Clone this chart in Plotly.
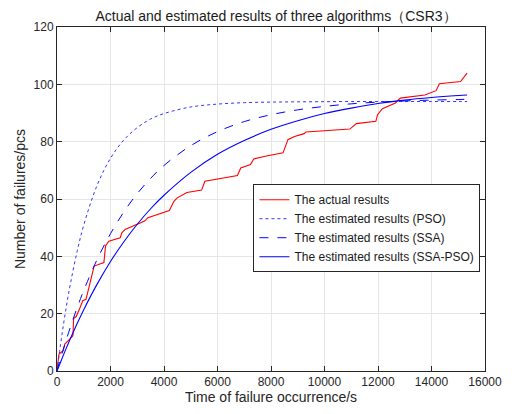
import plotly.graph_objects as go

# Actual results
t_actual = [0, 73, 230, 292, 475, 596, 621, 718, 840, 962, 1084, 1205, 1327, 1388,
            1753, 1814, 1936, 2362, 2423, 2545, 3275, 3397, 4200, 4371, 4493, 4615,
            4858, 5406, 5528, 6746, 6868, 7233, 7355, 7781, 8085, 8450, 8633, 8877,
            9242, 9303, 10948, 11190, 11920, 11982, 12164, 12651, 12834, 13747, 14174,
            14295, 15087, 15270, 15330]
y_actual = [0, 5.9, 7.1, 9.4, 11.1, 12.3, 18.3, 19.0, 21.6, 24.5, 25.0, 29.7, 34.3, 36.6,
            37.8, 43.6, 45.3, 46.5, 48.2, 49.4, 52.3, 53.5, 56.0, 59.2, 60.4, 61.0,
            62.3, 63.1, 66.2, 68.2, 70.8, 72.0, 74.0, 74.9, 75.5, 76.1, 80.7, 81.8,
            82.8, 83.4, 84.4, 86.3, 87.1, 89.4, 91.5, 93.5, 95.2, 96.3, 97.8,
            100.2, 101.0, 103.3, 103.9]

# Estimated curves
t_est = [0, 125, 250, 375, 500, 750, 1000, 1500, 2000, 2500, 3000, 3500, 4000, 5000,
         6000, 7000, 8000, 9000, 10000, 11000, 12000, 13000, 14000, 15000, 15330]
y_pso = [0, 8.7, 16.7, 23.9, 30.4, 41.6, 50.9, 64.8, 74.2, 80.6, 84.9, 87.9, 89.8, 92.1,
         93.1, 93.6, 93.8, 93.9, 93.95, 94.0, 94.0, 94.0, 94.0, 94.0, 94.0]
y_ssa = [0, 4.1, 8.0, 11.7, 15.3, 22.0, 28.1, 38.9, 47.9, 55.5, 61.9, 67.2, 71.7, 78.6,
         83.5, 87.0, 89.4, 91.1, 92.3, 93.2, 93.8, 94.2, 94.5, 94.7, 94.8]
y_ssapso = [0, 2.9, 5.8, 8.6, 11.3, 16.5, 21.4, 30.3, 38.2, 45.1, 51.2, 56.6, 61.3, 69.3,
            75.6, 80.4, 84.3, 87.3, 89.8, 91.7, 93.3, 94.5, 95.4, 96.1, 96.3]

x_ticks = [0, 2000, 4000, 6000, 8000, 10000, 12000, 14000, 16000]
y_ticks = [0, 20, 40, 60, 80, 100, 120]

FONT = "Liberation Sans, Arial, sans-serif"
AX = "#262626"

fig = go.Figure()
fig.add_trace(go.Scatter(x=t_actual, y=y_actual, mode="lines", name="The actual results",
                         line=dict(color="#ff0000", width=1.1)))
fig.add_trace(go.Scatter(x=t_est, y=y_pso, mode="lines", name="The estimated results (PSO)",
                         line=dict(color="#3333ff", width=1, dash="dot", shape="spline")))
fig.add_trace(go.Scatter(x=t_est, y=y_ssa, mode="lines", name="The estimated results (SSA)",
                         line=dict(color="#0000ff", width=1, dash="dash", shape="spline")))
fig.add_trace(go.Scatter(x=t_est, y=y_ssapso, mode="lines", name="The estimated results (SSA-PSO)",
                         line=dict(color="#0000ff", width=1.1, shape="spline")))

axis_common = dict(showline=True, linecolor=AX, linewidth=1, mirror="ticks",
                   ticks="inside", ticklen=5, tickcolor=AX, tickwidth=1,
                   showgrid=True, gridcolor="#e6e6e6", gridwidth=1, zeroline=False,
                   tickfont=dict(family=FONT, size=12, color=AX))

fig.update_layout(
    width=514, height=414,
    margin=dict(l=57, r=19, t=27, b=42),
    paper_bgcolor="white", plot_bgcolor="white",
    title=dict(text="Actual and estimated results of three algorithms（CSR3）",
               x=0.537, xanchor="center",
               y=1 - 16 / 414, yanchor="middle",
               font=dict(family=FONT, size=14, color="#1a1a1a")),
    xaxis=dict(range=[0, 16000], tickvals=x_ticks, ticktext=[str(v) for v in x_ticks],
               title=dict(text="Time of failure occurrence/s", standoff=3,
                          font=dict(family=FONT, size=14, color=AX)),
               **axis_common),
    yaxis=dict(range=[0, 120], tickvals=y_ticks, ticktext=[str(v) for v in y_ticks],
               title=dict(text="Number of failures/pcs", standoff=4,
                          font=dict(family=FONT, size=14, color=AX)),
               **axis_common),
    legend=dict(x=0.459, y=0.543, xanchor="left", yanchor="top",
                bgcolor="white", bordercolor=AX, borderwidth=1,
                font=dict(family=FONT, size=12, color="#1a1a1a"),
                tracegroupgap=0, itemwidth=30),
    showlegend=True,
)

fig.write_html("out.html")
